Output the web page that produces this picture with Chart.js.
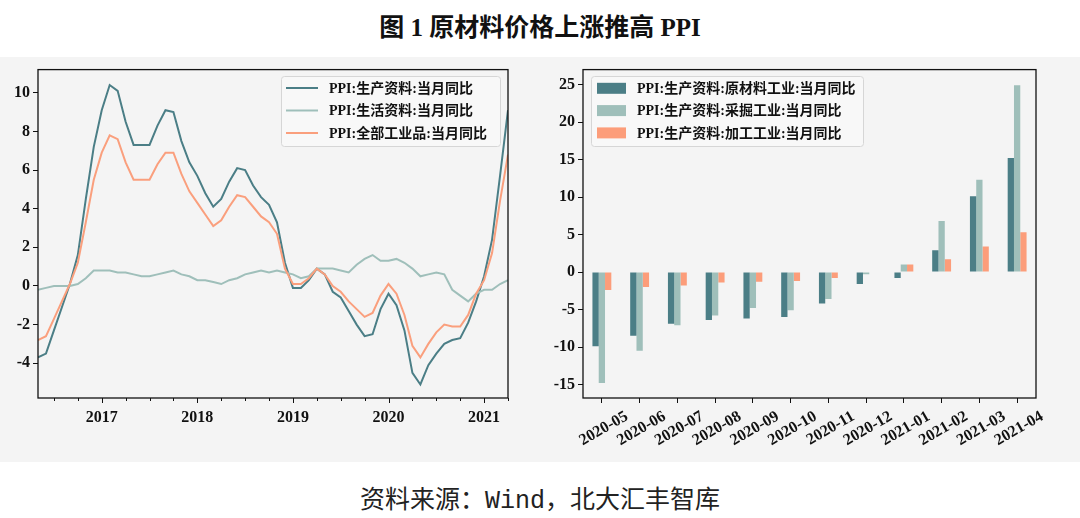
<!DOCTYPE html>
<html><head><meta charset="utf-8">
<script src="https://cdn.jsdelivr.net/npm/chart.js@4/dist/chart.umd.min.js"></script>
<style>
html,body{margin:0;padding:0;background:#fff;width:1080px;height:518px;overflow:hidden;}
#title{position:absolute;left:0;top:7px;width:1080px;text-align:center;font:bold 25px 'Liberation Serif','Noto Sans CJK SC',serif;color:#111;}
#band{position:absolute;left:0;top:57px;width:1080px;height:405px;background:#f4f4f4;}
#c1{position:absolute;left:0;top:57px;}
#c2{position:absolute;left:540px;top:57px;}
#src{position:absolute;left:0;top:479px;width:1080px;text-align:center;font:25px 'Noto Sans CJK SC',sans-serif;color:#222;}
#src .m{font-family:'Liberation Mono','DejaVu Sans Mono',monospace;}
</style></head>
<body>
<div id="title">图 1 原材料价格上涨推高 PPI</div>
<div id="band"></div>
<canvas id="c1" width="540" height="405"></canvas>
<canvas id="c2" width="540" height="405"></canvas>
<div id="src">资料来源：<span class="m">Wind</span>，北大汇丰智库</div>
<script>
// ---------- data: left chart (monthly, 2016-05 .. 2021-04) ----------
const months = [
 "2016-05","2016-06","2016-07","2016-08","2016-09","2016-10","2016-11","2016-12",
 "2017-01","2017-02","2017-03","2017-04","2017-05","2017-06","2017-07","2017-08","2017-09","2017-10","2017-11","2017-12",
 "2018-01","2018-02","2018-03","2018-04","2018-05","2018-06","2018-07","2018-08","2018-09","2018-10","2018-11","2018-12",
 "2019-01","2019-02","2019-03","2019-04","2019-05","2019-06","2019-07","2019-08","2019-09","2019-10","2019-11","2019-12",
 "2020-01","2020-02","2020-03","2020-04","2020-05","2020-06","2020-07","2020-08","2020-09","2020-10","2020-11","2020-12",
 "2021-01","2021-02","2021-03","2021-04"];
const ppiProducer = [
 -3.7,-3.5,-2.3,-1.1,0.1,1.6,4.5,7.2,
 9.1,10.4,10.1,8.5,7.3,7.3,7.3,8.3,9.1,9.0,7.5,6.4,
 5.7,4.8,4.1,4.5,5.4,6.1,6.0,5.2,4.6,4.2,3.3,1.2,
 -0.1,-0.1,0.3,0.9,0.6,-0.3,-0.6,-1.3,-2.0,-2.6,-2.5,-1.2,
 -0.4,-1.0,-2.3,-4.5,-5.1,-4.1,-3.5,-3.0,-2.8,-2.7,-1.9,-0.8,
 0.5,2.4,5.7,9.1];
const ppiConsumer = [
 -0.2,-0.1,0.0,0.0,0.0,0.1,0.4,0.8,
 0.8,0.8,0.7,0.7,0.6,0.5,0.5,0.6,0.7,0.8,0.6,0.5,
 0.3,0.3,0.2,0.1,0.3,0.4,0.6,0.7,0.8,0.7,0.8,0.7,
 0.6,0.4,0.5,0.9,0.9,0.9,0.8,0.7,1.1,1.4,1.6,1.3,
 1.3,1.4,1.2,0.9,0.5,0.6,0.7,0.6,-0.2,-0.5,-0.8,-0.4,
 -0.2,-0.2,0.1,0.3];
const ppiAll = [
 -2.8,-2.6,-1.7,-0.8,0.1,1.2,3.3,5.5,
 6.9,7.8,7.6,6.4,5.5,5.5,5.5,6.3,6.9,6.9,5.8,4.9,
 4.3,3.7,3.1,3.4,4.1,4.7,4.6,4.1,3.6,3.3,2.7,0.9,
 0.1,0.1,0.4,0.9,0.6,0.0,-0.3,-0.8,-1.2,-1.6,-1.4,-0.5,
 0.1,-0.4,-1.5,-3.1,-3.7,-3.0,-2.4,-2.0,-2.1,-2.1,-1.5,-0.4,
 0.3,1.7,4.4,6.8];
const leftLabels = ["PPI:生产资料:当月同比","PPI:生活资料:当月同比","PPI:全部工业品:当月同比"];
const leftYTicks = [-4,-2,0,2,4,6,8,10];

// ---------- data: right chart ----------
const barCats = ["2020-05","2020-06","2020-07","2020-08","2020-09","2020-10","2020-11","2020-12","2021-01","2021-02","2021-03","2021-04"];
const rawMaterial = [-9.9,-8.5,-6.9,-6.4,-6.2,-6.0,-4.2,-1.6,-0.8,2.9,10.1,15.2];
const mining      = [-14.8,-10.5,-7.1,-5.8,-4.8,-5.1,-3.6,-0.3,1.0,6.8,12.3,24.9];
const processing  = [-2.4,-2.0,-1.8,-1.4,-1.3,-1.2,-0.8,0.0,1.0,1.7,3.4,5.3];
const rightLabels = ["PPI:生产资料:原材料工业:当月同比","PPI:生产资料:采掘工业:当月同比","PPI:生产资料:加工工业:当月同比"];
const rightYTicks = [-15,-10,-5,0,5,10,15,20,25];

const C_TEAL = '#4b7e86', C_GRAY = '#9fbfba', C_ORANGE = '#fa9f7d';
const FONT = "'Liberation Serif','Noto Sans CJK SC',serif";
const tickFont = {family: FONT, size: 16, weight: 'bold'};

const framePlugin = {
  id: 'frame',
  afterDraw(chart) {
    const a = chart.chartArea, ctx = chart.ctx;
    ctx.save();
    ctx.strokeStyle = '#111'; ctx.lineWidth = 1.3;
    ctx.strokeRect(a.left, a.top, a.right - a.left, a.bottom - a.top);
    ctx.restore();
  }
};

function legendPlugin(box, rows, kind) {
  return {
    id: 'customLegend',
    afterDraw(chart) {
      const ctx = chart.ctx;
      ctx.save();
      ctx.fillStyle = 'rgba(248,248,248,0.9)';
      ctx.strokeStyle = '#d6d6d6'; ctx.lineWidth = 1;
      ctx.beginPath();
      ctx.roundRect(box.x, box.y, box.w, box.h, 3);
      ctx.fill(); ctx.stroke();
      ctx.font = "bold 14px " + FONT;
      ctx.textBaseline = 'middle';
      chart.data.datasets.forEach((ds, i) => {
        const y = rows.y0 + i * rows.dy;
        const col = kind === 'line' ? ds.borderColor : ds.backgroundColor;
        if (kind === 'line') {
          ctx.strokeStyle = col; ctx.lineWidth = 2;
          ctx.beginPath(); ctx.moveTo(rows.sx, y); ctx.lineTo(rows.sx + rows.sw, y); ctx.stroke();
        } else {
          ctx.fillStyle = col;
          ctx.fillRect(rows.sx, y - 5.5, rows.sw, 11);
        }
        ctx.fillStyle = '#111';
        ctx.fillText(ds.label, rows.tx, y + 1);
      });
      ctx.restore();
    }
  };
}

// manual minor/major ticks for the left date axis
const dateTickPlugin = {
  id: 'dateTicks',
  afterDraw(chart) {
    const s = chart.scales.x, ctx = chart.ctx, b = chart.chartArea.bottom;
    ctx.save(); ctx.strokeStyle = '#111'; ctx.lineWidth = 1;
    s.ticks.forEach(t => {
      const px = Math.round(s.getPixelForValue(t.value)) + 0.5;
      const major = months[t.value].endsWith('-01');
      ctx.beginPath(); ctx.moveTo(px, b); ctx.lineTo(px, b + (major ? 5 : 3)); ctx.stroke();
    });
    ctx.restore();
  }
};

const tickIdx = months.map((m, i) => i).filter(i => ['01','04','07','10'].includes(months[i].slice(5)));
const pts = arr => arr.map((v, i) => ({x: i, y: v}));

new Chart(document.getElementById('c1'), {
  type: 'line',
  data: {
    datasets: [
      {label: leftLabels[0], data: pts(ppiProducer), borderColor: C_TEAL, borderWidth: 2, pointRadius: 0, tension: 0, order: 3},
      {label: leftLabels[1], data: pts(ppiConsumer), borderColor: C_GRAY, borderWidth: 2, pointRadius: 0, tension: 0, order: 2},
      {label: leftLabels[2], data: pts(ppiAll), borderColor: C_ORANGE, borderWidth: 2, pointRadius: 0, tension: 0, order: 1}
    ]
  },
  options: {
    responsive: false, animation: false, events: [], devicePixelRatio: 1,
    layout: {padding: {left: 0, top: 10, right: 32, bottom: 0}},
    plugins: {legend: {display: false}, tooltip: {enabled: false}},
    scales: {
      x: {
        type: 'linear', min: 0, max: months.length - 1,
        afterBuildTicks: s => { s.ticks = tickIdx.map(v => ({value: v})); },
        afterFit: s => { s.height = 64; },
        grid: {display: true, drawOnChartArea: false, tickLength: 5, tickColor: 'rgba(0,0,0,0)'},
        border: {display: false},
        ticks: {autoSkip: false, maxRotation: 0, minRotation: 0, padding: 5, color: '#111', font: tickFont,
          callback: v => months[v] && months[v].endsWith('-01') ? months[v].slice(0, 4) : ''}
      },
      y: {
        min: -5.8, max: 11.2,
        afterBuildTicks: s => { s.ticks = leftYTicks.map(v => ({value: v})); },
        afterFit: s => { s.width = 38; },
        grid: {display: true, drawOnChartArea: false, tickLength: 5, tickColor: '#111'},
        border: {display: false},
        ticks: {padding: 3, color: '#111', font: tickFont}
      }
    }
  },
  plugins: [framePlugin, dateTickPlugin,
    legendPlugin({x: 281.5, y: 19.5, w: 219, h: 70}, {y0: 31, dy: 22.5, sx: 286, sw: 32, tx: 329}, 'line')]
});

new Chart(document.getElementById('c2'), {
  type: 'bar',
  data: {
    labels: barCats,
    datasets: [
      {label: rightLabels[0], data: rawMaterial, backgroundColor: C_TEAL},
      {label: rightLabels[1], data: mining, backgroundColor: C_GRAY},
      {label: rightLabels[2], data: processing, backgroundColor: '#fc9d7a'}
    ]
  },
  options: {
    responsive: false, animation: false, events: [], devicePixelRatio: 1,
    layout: {padding: {left: 0, top: 10, right: 44, bottom: 0}},
    plugins: {legend: {display: false}, tooltip: {enabled: false}},
    datasets: {bar: {categoryPercentage: 0.5, barPercentage: 1.0}},
    scales: {
      x: {
        afterFit: s => { s.height = 64; },
        grid: {display: true, drawOnChartArea: false, tickLength: 5, tickColor: '#111', offset: false},
        border: {display: false},
        ticks: {autoSkip: false, minRotation: 30, maxRotation: 30, padding: 4, labelOffset: 25, color: '#111', font: {family: FONT, size: 16, weight: 'bold'}}
      },
      y: {
        min: -16.8, max: 27,
        afterBuildTicks: s => { s.ticks = rightYTicks.map(v => ({value: v})); },
        afterFit: s => { s.width = 43; },
        grid: {display: true, drawOnChartArea: false, tickLength: 5, tickColor: '#111'},
        border: {display: false},
        ticks: {padding: 3, color: '#111', font: tickFont}
      }
    }
  },
  plugins: [framePlugin,
    legendPlugin({x: 51.5, y: 19.5, w: 272, h: 70}, {y0: 31.3, dy: 22.3, sx: 57, sw: 29, tx: 97}, 'bar')]
});
</script>
</body></html>
